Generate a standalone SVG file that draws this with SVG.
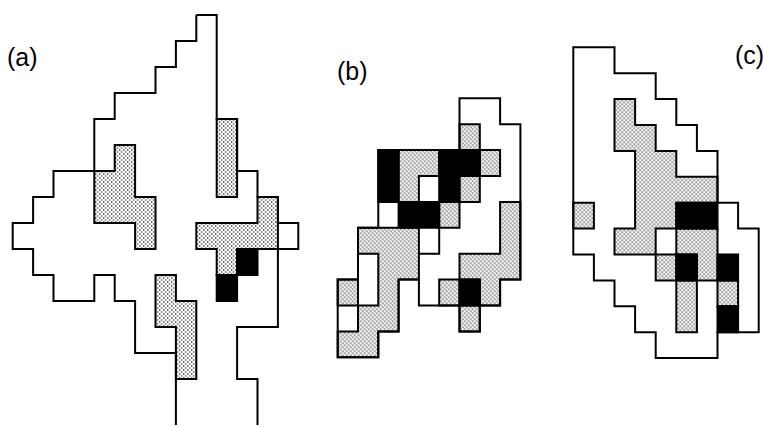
<svg xmlns="http://www.w3.org/2000/svg" width="763" height="427" viewBox="0 0 763 427">
<style>
.ln{fill:none;stroke:#000;stroke-width:2;stroke-linejoin:miter;vector-effect:non-scaling-stroke}
.ga{fill:url(#pa);stroke:#000;stroke-width:2;vector-effect:non-scaling-stroke}
.gb{fill:url(#pb);stroke:#000;stroke-width:2;vector-effect:non-scaling-stroke}
.gc{fill:url(#pc);stroke:#000;stroke-width:2;vector-effect:non-scaling-stroke}
.k{fill:#000;stroke:#000;stroke-width:2;vector-effect:non-scaling-stroke}
.lbl{font-family:"Liberation Sans",Arial,sans-serif;font-size:25px;fill:#000}
</style>
<defs>
<pattern id="pa" patternUnits="userSpaceOnUse" width="4" height="4" patternTransform="scale(0.04902 0.03846)">
<rect width="4" height="4" fill="#fff"/>
<circle cx="1" cy="1" r="0.8" fill="#222"/>
<circle cx="3" cy="3" r="0.8" fill="#222"/>
</pattern>
<pattern id="pb" patternUnits="userSpaceOnUse" width="4" height="4" patternTransform="scale(0.04926 0.03861)">
<rect width="4" height="4" fill="#fff"/>
<circle cx="1" cy="1" r="0.8" fill="#222"/>
<circle cx="3" cy="3" r="0.8" fill="#222"/>
</pattern>
<pattern id="pc" patternUnits="userSpaceOnUse" width="4" height="4" patternTransform="scale(0.04854 0.03861)">
<rect width="4" height="4" fill="#fff"/>
<circle cx="1" cy="1" r="0.8" fill="#222"/>
<circle cx="3" cy="3" r="0.8" fill="#222"/>
</pattern>
</defs>
<rect width="763" height="427" fill="#fff"/>

<g id="panel-a" transform="translate(12.7 15) scale(20.4 26)">
<path class="ga" d="M5,5 H6 V7 H7 V9 H6 V8 H4 V6 H5 Z"/>
<path class="ga" d="M10,4 H11 V7 H10 Z"/>
<path class="ga" d="M12,7 H13 V9 H11 V10 H10 V9 H9 V8 H12 Z"/>
<path class="ga" d="M7,10 H8 V11 H9 V14 H8 V12 H7 Z"/>
<rect class="k" x="11" y="9" width="1" height="1"/>
<rect class="k" x="10" y="10" width="1" height="1"/>
<path class="ln" d="M9,0 H10 V4 H11 V6 H12 V7 H13 V8 H14 V9 H13 V12 H11 V14 H12 V15.77"/>
<path class="ln" d="M9,0 V1 H8 V2 H7 V3 H5 V4 H4 V6 H2 V7 H1 V8 H0 V9 H1 V10 H2 V11 H4 V10 H5 V11 H6 V13 H8 V15.77"/>
</g>

<g id="panel-b" transform="translate(337.7 98.3) scale(20.3 25.9)">
<rect class="gb" x="6" y="1" width="1" height="1"/>
<path class="gb" d="M3,2 H5 V3 H4 V4 H3 Z"/>
<rect class="gb" x="7" y="2" width="1" height="1"/>
<rect class="gb" x="6" y="3" width="1" height="1"/>
<rect class="gb" x="5" y="4" width="1" height="1"/>
<path class="gb" d="M8,4 H9 V7 H8 V8 H7 V7 H6 V6 H8 Z"/>
<path class="gb" d="M1,5 H4 V7 H3 V9 H2 V10 H0 V9 H1 V8 H2 V6 H1 Z"/>
<rect class="gb" x="0" y="7" width="1" height="1"/>
<rect class="gb" x="5" y="7" width="1" height="1"/>
<rect class="gb" x="6" y="8" width="1" height="1"/>
<rect class="k" x="2" y="2" width="1" height="2"/>
<rect class="k" x="5" y="2" width="2" height="1"/>
<rect class="k" x="5" y="3" width="1" height="1"/>
<rect class="k" x="3" y="4" width="2" height="1"/>
<rect class="k" x="6" y="7" width="1" height="1"/>
<path class="ln" d="M5,5 V6 H4"/>
<path class="ln" d="M6,0 H8 V1 H9 V7 H8 V8 H7 V9 H6 V8 H4 V7 H3 V9 H2 V10 H0 V7 H1 V5 H2 V2 H6 Z"/>
</g>

<g id="panel-c" transform="translate(573.3 47.3) scale(20.6 25.9)">
<path class="gc" d="M2,2 H3 V3 H4 V4 H5 V5 H7 V6 H5 V7 H4 V8 H2 V7 H3 V4 H2 Z"/>
<path class="gc" d="M5,7 H7 V9 H6 V8 H5 Z"/>
<rect class="gc" x="5" y="9" width="1" height="2"/>
<rect class="gc" x="4" y="8" width="1" height="1"/>
<rect class="gc" x="7" y="9" width="1" height="1"/>
<rect class="gc" x="0" y="6" width="1" height="1"/>
<rect class="k" x="5" y="6" width="2" height="1"/>
<rect class="k" x="5" y="8" width="1" height="1"/>
<rect class="k" x="7" y="8" width="1" height="1"/>
<rect class="k" x="7" y="10" width="1" height="1"/>
<path class="ln" d="M0,0 H2 V1 H4 V2 H5 V3 H6 V4 H7 V6 H8 V7 H9 V11 H7 V12 H4 V11 H3 V10 H2 V9 H1 V8 H0 Z"/>
</g>

<g id="labels">
<text class="lbl" x="7" y="66">(a)</text>
<text class="lbl" x="337" y="80">(b)</text>
<text class="lbl" x="735" y="64">(c)</text>
</g>
</svg>
